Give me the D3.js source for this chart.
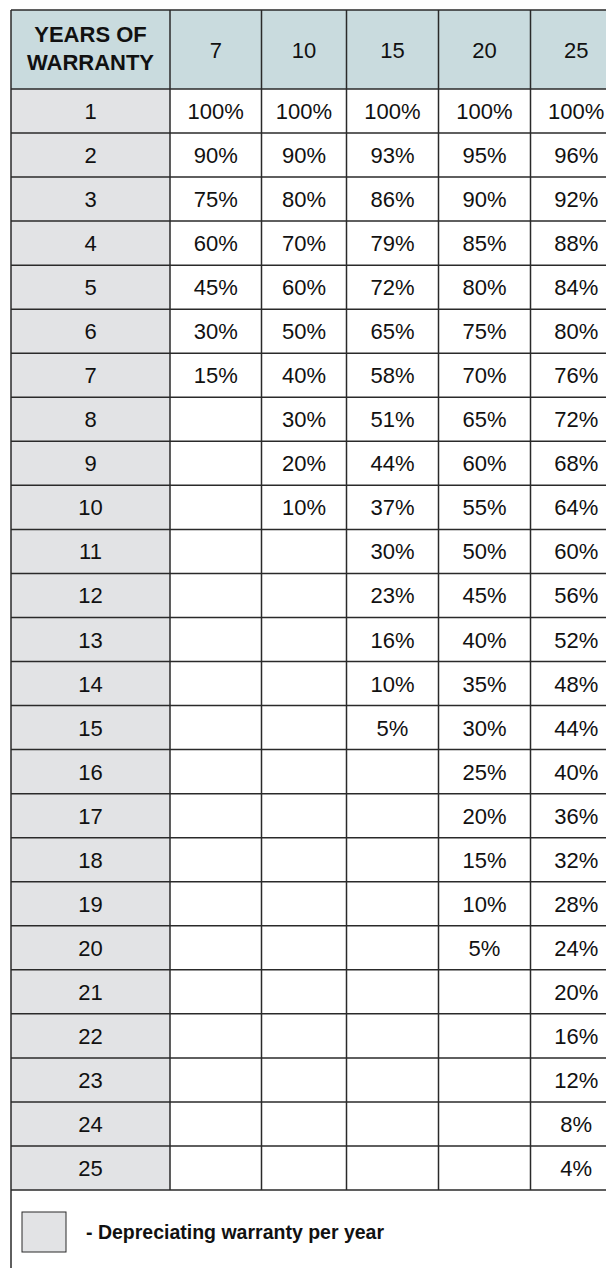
<!DOCTYPE html>
<html>
<head>
<meta charset="utf-8">
<script src="https://cdn.jsdelivr.net/npm/d3@7"></script>
<style>
  body { margin: 0; background: #fff; }
  text { font-family: "Liberation Sans", Arial, Helvetica, sans-serif; fill: #111; }
</style>
</head>
<body>
<div id="chart"></div>
<script>
var terms = [7, 10, 15, 20, 25];   // warranty length (column headers)
var years = d3.range(1, 26);       // row labels 1..25
var pct7  = [100, 90, 75, 60, 45, 30, 15];
var pct10 = [100, 90, 80, 70, 60, 50, 40, 30, 20, 10];
var pct15 = [100, 93, 86, 79, 72, 65, 58, 51, 44, 37, 30, 23, 16, 10, 5];
var pct20 = [100, 95, 90, 85, 80, 75, 70, 65, 60, 55, 50, 45, 40, 35, 30, 25, 20, 15, 10, 5];
var pct25 = [100, 96, 92, 88, 84, 80, 76, 72, 68, 64, 60, 56, 52, 48, 44, 40, 36, 32, 28, 24, 20, 16, 12, 8, 4];
var headerLabel = ["YEARS OF", "WARRANTY"];
var legendLabel = "- Depreciating warranty per year";

var series = [pct7, pct10, pct15, pct20, pct25];

// layout
var W = 606, H = 1268;
var tableTop = 10, headBottom = 89, tableBottom = 1190;
var colKeys = ["year"].concat(terms);
var colEdges = [11, 170, 261.5, 346.5, 438.5, 530.5, 622];

var svg = d3.select("#chart").append("svg")
  .attr("width", W)
  .attr("height", H);

// x: column key -> left edge / width
var x = d3.scaleOrdinal().domain(colKeys).range(colEdges.slice(0, -1));
var cw = d3.scaleOrdinal().domain(colKeys).range(colEdges.slice(1).map(function(e, i){ return e - colEdges[i]; }));
// y: rows
var y = d3.scaleBand().domain(years).range([headBottom, tableBottom]);

var lineCol = "#2a2a2a";

// header cells
svg.selectAll("rect.head")
  .data(colKeys)
  .enter().append("rect")
  .attr("class", "head")
  .attr("x", function(d){ return x(d); })
  .attr("y", tableTop)
  .attr("width", function(d){ return cw(d); })
  .attr("height", headBottom - tableTop)
  .attr("fill", "#c9dbde");

// body cells
var cells = [];
years.forEach(function(yr){
  colKeys.forEach(function(k, ci){
    var v = null;
    if (ci > 0) {
      var s = series[ci - 1];
      v = yr <= s.length ? s[yr - 1] : null;
    }
    cells.push({year: yr, key: k, col: ci, value: v});
  });
});

svg.selectAll("rect.cell")
  .data(cells)
  .enter().append("rect")
  .attr("class", "cell")
  .attr("x", function(d){ return x(d.key); })
  .attr("y", function(d){ return y(d.year); })
  .attr("width", function(d){ return cw(d.key); })
  .attr("height", y.bandwidth())
  .attr("fill", function(d){ return d.col === 0 ? "#e2e3e5" : "#fff"; });

// grid lines
var hLines = [tableTop, headBottom].concat(years.map(function(d){ return y(d) + y.bandwidth(); }));
svg.selectAll("line.h")
  .data(hLines)
  .enter().append("line")
  .attr("x1", colEdges[0]).attr("x2", colEdges[colEdges.length - 1])
  .attr("y1", function(d){ return d; }).attr("y2", function(d){ return d; })
  .attr("stroke", lineCol).attr("stroke-width", 1.5);

svg.selectAll("line.v")
  .data(colEdges.slice(1))
  .enter().append("line")
  .attr("x1", function(d){ return d; }).attr("x2", function(d){ return d; })
  .attr("y1", tableTop).attr("y2", tableBottom)
  .attr("stroke", lineCol).attr("stroke-width", 1.5);

// outer left border runs down through the legend area
svg.append("line")
  .attr("x1", colEdges[0]).attr("x2", colEdges[0])
  .attr("y1", tableTop).attr("y2", H)
  .attr("stroke", lineCol).attr("stroke-width", 1.5);

// header text
svg.selectAll("text.headlbl")
  .data(headerLabel)
  .enter().append("text")
  .attr("x", x("year") + cw("year") / 2)
  .attr("y", function(d, i){ return 42 + i * 28; })
  .attr("text-anchor", "middle")
  .attr("font-size", "22px")
  .attr("font-weight", "bold")
  .text(function(d){ return d; });

svg.selectAll("text.term")
  .data(terms)
  .enter().append("text")
  .attr("x", function(d){ return x(d) + cw(d) / 2; })
  .attr("y", (tableTop + headBottom) / 2 + 8)
  .attr("text-anchor", "middle")
  .attr("font-size", "22px")
  .text(function(d){ return d; });

// row labels and values
svg.selectAll("text.val")
  .data(cells.filter(function(d){ return d.col === 0 || d.value !== null; }))
  .enter().append("text")
  .attr("x", function(d){ return x(d.key) + cw(d.key) / 2; })
  .attr("y", function(d){ return y(d.year) + y.bandwidth() / 2 + 8; })
  .attr("text-anchor", "middle")
  .attr("font-size", "22px")
  .text(function(d){ return d.col === 0 ? d.year : d.value + "%"; });

// legend
svg.append("rect")
  .attr("x", 22).attr("y", 1212)
  .attr("width", 44).attr("height", 40)
  .attr("fill", "#e2e3e5")
  .attr("stroke", lineCol).attr("stroke-width", 1);

svg.append("text")
  .attr("x", 86).attr("y", 1239)
  .attr("font-size", "19.5px")
  .attr("font-weight", "bold")
  .text(legendLabel);
</script>
</body>
</html>
